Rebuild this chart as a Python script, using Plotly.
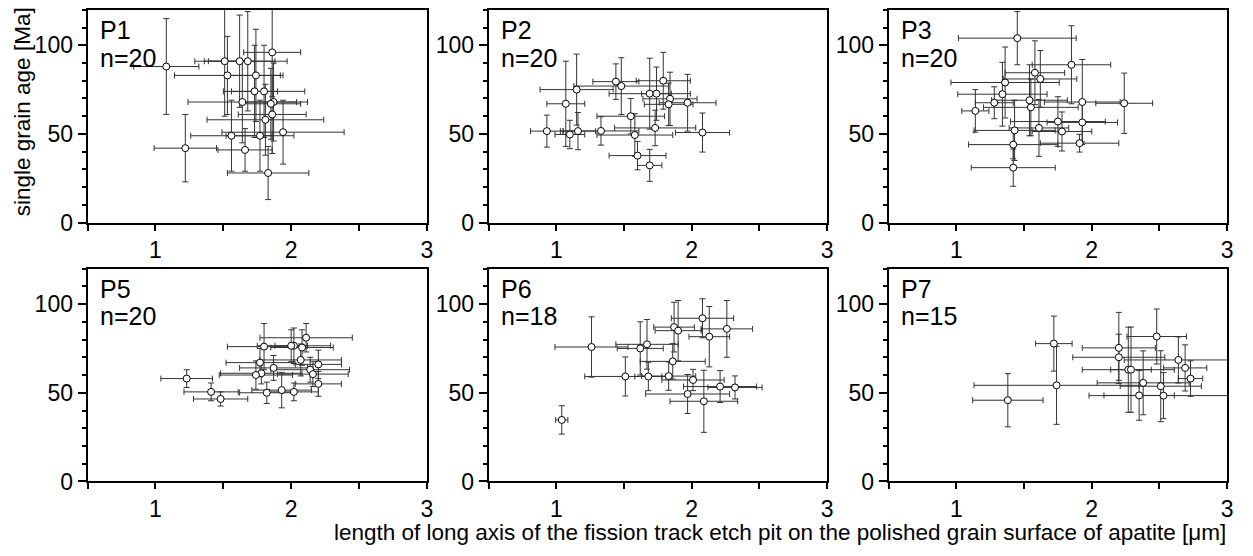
import plotly.graph_objects as go

# Fission-track etch pit length (Dpar, µm) vs. single grain age (Ma) for six samples
panel_names = ["P1", "P2", "P3", "P5", "P6", "P7"]

p1_x = [1.08, 1.22, 1.51, 1.62, 1.68, 1.86, 1.53, 1.74, 1.73, 1.80, 1.64, 1.87, 1.85, 1.86, 1.81, 1.94, 1.56, 1.77, 1.66, 1.83]
p1_y = [88, 42, 91, 91, 91, 96, 83, 83, 74, 74, 68, 68, 67, 61, 58, 51, 49, 49, 41, 28]
p1_xerr = [0.24, 0.23, 0.22, 0.26, 0.29, 0.21, 0.39, 0.20, 0.17, 0.30, 0.40, 0.25, 0.22, 0.25, 0.43, 0.45, 0.30, 0.25, 0.20, 0.30]
p1_yerr = [27, 19, 31, 26, 28, 25, 22, 26, 26, 26, 23, 22, 20, 22, 20, 18, 20, 20, 12, 15]

p2_x = [0.93, 1.07, 1.15, 1.10, 1.16, 1.33, 1.44, 1.48, 1.55, 1.58, 1.60, 1.69, 1.69, 1.74, 1.79, 1.84, 1.83, 1.97, 1.73, 2.08]
p2_y = [51.6, 67, 75, 49.7, 51.6, 51.7, 79.5, 77, 60, 49.4, 37.8, 32.3, 72.7, 72.7, 80, 69.8, 66.7, 67.6, 53.4, 50.8]
p2_xerr = [0.12, 0.14, 0.27, 0.11, 0.13, 0.28, 0.17, 0.35, 0.25, 0.28, 0.21, 0.09, 0.30, 0.11, 0.20, 0.20, 0.18, 0.21, 0.30, 0.20]
p2_yerr = [9, 24, 20, 8, 10.5, 8, 10, 16, 10, 12, 8, 9, 20, 15, 16, 15, 12, 16, 10, 11]

p3_x = [1.45, 1.85, 1.58, 1.62, 1.36, 1.34, 1.28, 1.14, 1.54, 1.55, 1.93, 2.24, 1.75, 1.93, 1.43, 1.61, 1.78, 1.42, 1.91, 1.42]
p3_y = [104, 89, 84.5, 81, 79, 72.4, 67.6, 63, 69, 65, 68, 67.3, 57, 56.5, 52, 53.4, 51.4, 44, 44.8, 31]
p3_xerr = [0.435, 0.29, 0.22, 0.27, 0.40, 0.33, 0.14, 0.10, 0.28, 0.35, 0.28, 0.21, 0.35, 0.26, 0.30, 0.22, 0.22, 0.33, 0.29, 0.31]
p3_yerr = [15, 22, 18, 16, 20, 18, 9, 12, 20, 16, 24, 17, 14, 11, 17, 16, 11, 8, 5, 10.5]

p5_x = [1.23, 1.41, 1.48, 1.80, 2.02, 2.11, 2.08, 2.07, 1.77, 1.87, 2.20, 2.14, 2.16, 1.78, 1.74, 2.20, 1.93, 1.82, 2.02, 2.00]
p5_y = [58, 50.5, 46.5, 76, 76.5, 81, 75.5, 68.5, 67, 64, 66, 63, 60.5, 61, 60, 55, 51.5, 50, 50.5, 76.5]
p5_xerr = [0.19, 0.20, 0.20, 0.27, 0.27, 0.34, 0.23, 0.30, 0.25, 0.25, 0.17, 0.29, 0.26, 0.30, 0.27, 0.17, 0.22, 0.20, 0.18, 0.12]
p5_yerr = [5, 5, 4, 13, 10, 8, 10, 9, 8, 7, 8, 7, 7, 6, 8, 7, 10, 6, 5, 9]

p6_x = [1.04, 1.26, 1.51, 1.62, 1.67, 1.68, 1.87, 1.90, 1.86, 1.83, 2.08, 2.26, 2.13, 2.01, 2.21, 2.32, 1.97, 2.09]
p6_y = [34.7, 75.8, 59.2, 75, 77.3, 59.2, 87, 85, 67.7, 59.4, 92, 86, 81.6, 57.2, 53.5, 53, 49.3, 45.2]
p6_xerr = [0.045, 0.27, 0.30, 0.17, 0.23, 0.10, 0.15, 0.17, 0.24, 0.20, 0.23, 0.19, 0.15, 0.23, 0.27, 0.20, 0.31, 0.25]
p6_yerr = [8, 17, 11, 15, 14, 8, 14, 17, 10, 8, 11, 16, 17, 6, 9, 6.5, 11, 17.5]

p7_x = [1.38, 1.72, 1.74, 2.20, 2.20, 2.27, 2.29, 2.48, 2.64, 2.69, 2.73, 2.38, 2.51, 2.35, 2.53]
p7_y = [45.8, 77.7, 54.2, 75.3, 70, 63, 63, 81.7, 68.5, 64, 58, 55.6, 53.7, 48.5, 48.4]
p7_xerr = [0.26, 0.135, 0.61, 0.27, 0.34, 0.34, 0.15, 0.22, 0.40, 0.16, 0.09, 0.34, 0.30, 0.26, 0.55]
p7_yerr = [15, 15.5, 22, 20, 13, 24, 24, 15.5, 13, 13, 10, 18, 20, 14, 13]

x_tick_vals = [1, 2, 3]
y_tick_vals = [0, 50, 100]

series = [
    (p1_x, p1_y, p1_xerr, p1_yerr),
    (p2_x, p2_y, p2_xerr, p2_yerr),
    (p3_x, p3_y, p3_xerr, p3_yerr),
    (p5_x, p5_y, p5_xerr, p5_yerr),
    (p6_x, p6_y, p6_xerr, p6_yerr),
    (p7_x, p7_y, p7_xerr, p7_yerr),
]

W, H = 1253, 556
col_px = [(88, 429), (491, 831), (893, 1233)]
row_px = [(10, 228), (275, 493)]

FONT = "Liberation Sans, Arial, sans-serif"
bar_color = "#333333"
TICK_SIZE = 23
LABEL_SIZE = 25
TITLE_SIZE = 22.5

fig = go.Figure()
layout = {}
annotations = []

for i, (name, (xs, ys, xe, ye)) in enumerate(zip(panel_names, series)):
    r, c = divmod(i, 3)
    k = "" if i == 0 else str(i + 1)
    x0, x1 = col_px[c]
    y0, y1 = row_px[r]
    fig.add_trace(go.Scatter(
        x=xs, y=ys, mode="markers",
        xaxis="x" + k, yaxis="y" + k,
        marker=dict(size=7, color="white", line=dict(color="black", width=1)),
        error_x=dict(type="data", array=xe, color=bar_color, thickness=1, width=3),
        error_y=dict(type="data", array=ye, color=bar_color, thickness=1, width=3),
        showlegend=False, hoverinfo="skip",
    ))
    layout["xaxis" + k] = dict(
        domain=[x0 / W, x1 / W], anchor="y" + k, range=[0.5, 3],
        tickvals=x_tick_vals, ticks="outside", ticklen=6, tickwidth=1.5,
        minor=dict(tickvals=[0.5, 1.5, 2.5], ticks="outside", ticklen=6, tickwidth=1.5, tickcolor="black"),
        showline=True, mirror=True, linecolor="black", linewidth=2,
        showgrid=False, zeroline=False, tickcolor="black",
        tickfont=dict(family=FONT, size=TICK_SIZE, color="black"),
    )
    layout["yaxis" + k] = dict(
        domain=[1 - y1 / H, 1 - y0 / H], anchor="x" + k, range=[0, 120],
        tickvals=y_tick_vals, ticks="outside", ticklen=8, tickwidth=1.5,
        minor=dict(dtick=10, ticks="outside", ticklen=4, tickwidth=1.5, tickcolor="black"),
        showline=True, mirror=True, linecolor="black", linewidth=2,
        showgrid=False, zeroline=False, tickcolor="black",
        tickfont=dict(family=FONT, size=TICK_SIZE, color="black"),
    )
    n = len(xs)
    # sample name and grain count, stacked in the upper-left corner
    for txt, yy in ((name, 0.905), (f"n={n}", 0.775)):
        annotations.append(dict(
            text=txt, xref=f"x{k} domain", yref=f"y{k} domain",
            x=0.03, y=yy, xanchor="left", yanchor="middle", align="left",
            showarrow=False, font=dict(family=FONT, size=LABEL_SIZE, color="black"),
        ))

annotations.append(dict(
    text="single grain age [Ma]", xref="paper", yref="paper",
    x=22 / W, y=1 - 114 / H, textangle=-90, xanchor="center", yanchor="middle",
    showarrow=False, font=dict(family=FONT, size=TITLE_SIZE, color="black"),
))
annotations.append(dict(
    text="length of long axis of the fission track etch pit on the polished grain surface of apatite [μm]",
    xref="paper", yref="paper", x=1234 / W, y=1 - 545 / H,
    xanchor="right", yanchor="middle",
    showarrow=False, font=dict(family=FONT, size=TITLE_SIZE, color="black"),
))

fig.update_layout(
    width=W, height=H,
    margin=dict(l=0, r=0, t=0, b=0),
    paper_bgcolor="white", plot_bgcolor="white",
    annotations=annotations,
    **layout,
)

fig.write_html("out.html")
